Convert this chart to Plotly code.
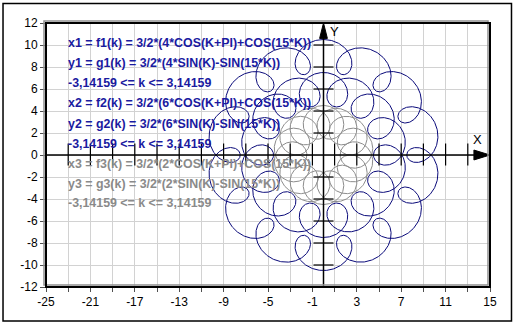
import numpy as np
import plotly.graph_objects as go

# ---- data ----
K_MIN, K_MAX = -3.14159, 3.14159
SCALE = 1.5                 # 3/2
BIG_RADII = [4, 6, 2]       # coefficient of COS(K+PI) / SIN(K)
SMALL_RADII = [1, 1, 1]     # coefficient of COS(15*K) / SIN(15*K)
FREQ = 15
N_POINTS = 3000

formula_lines = [
    "x1 = f1(k) = 3/2*(4*COS(K+PI)+COS(15*K))",
    "y1 = g1(k) = 3/2*(4*SIN(K)-SIN(15*K))",
    "-3,14159 <= k <= 3,14159",
    "x2 = f2(k) = 3/2*(6*COS(K+PI)+COS(15*K))",
    "y2 = g2(k) = 3/2*(6*SIN(K)-SIN(15*K))",
    "-3,14159 <= k <= 3,14159",
    "x3 = f3(k) = 3/2*(2*COS(K+PI)+COS(15*K))",
    "y3 = g3(k) = 3/2*(2*SIN(K)-SIN(15*K))",
    "-3,14159 <= k <= 3,14159",
]
line_y = [10.18, 8.36, 6.55, 4.73, 2.82, 1.0, -0.82, -2.64, -4.36]

x_tick_vals = list(range(-25, 16, 2))
x_tick_text = [str(v) if (v + 25) % 4 == 0 else "" for v in x_tick_vals]
y_tick_vals = list(range(-12, 13, 2))
y_tick_text = [str(v) for v in y_tick_vals]
axis_tick_x = list(range(-23, 14, 2))
axis_tick_y = [-10, -8, -6, -4, -2, 2, 4, 6, 8, 10]

# ---- styles ----
BLUE_LINE = "#0a0a7a"
GRAY_LINE = "#8c8c8c"
BLUE_TEXT = "#1a1aa0"
GRAY_TEXT = "#8a8a8a"
curve_colors = [BLUE_LINE, BLUE_LINE, GRAY_LINE]
text_colors = [BLUE_TEXT] * 6 + [GRAY_TEXT] * 3

k = np.linspace(K_MIN, K_MAX, N_POINTS)
fig = go.Figure()
for R, r, col in zip(BIG_RADII, SMALL_RADII, curve_colors):
    xs = SCALE * (R * np.cos(k + np.pi) + r * np.cos(FREQ * k))
    ys = SCALE * (R * np.sin(k) - r * np.sin(FREQ * k))
    fig.add_trace(go.Scatter(x=xs, y=ys, mode="lines",
                             line=dict(color=col, width=1), hoverinfo="skip"))

shapes = []
# main axes
shapes.append(dict(type="line", xref="x", yref="y", x0=-25, x1=14, y0=0, y1=0,
                   line=dict(color="black", width=1.5), layer="above"))
shapes.append(dict(type="line", xref="x", yref="y", x0=0, x1=0, y0=-12, y1=11,
                   line=dict(color="black", width=1.5), layer="above"))
for v in axis_tick_x:
    shapes.append(dict(type="line", xref="x", yref="y", x0=v, x1=v, y0=-0.95, y1=1.05,
                       line=dict(color="black", width=1.2), layer="above"))
for v in axis_tick_y:
    shapes.append(dict(type="line", xref="x", yref="y", x0=-0.9, x1=0.9, y0=v, y1=v,
                       line=dict(color="black", width=1.2), layer="above"))
# arrows
shapes.append(dict(type="path", xref="x", yref="y",
                   path="M 15 0 L 13.55 0.45 L 13.55 -0.45 Z",
                   fillcolor="black", line=dict(color="black", width=1), layer="above"))
shapes.append(dict(type="path", xref="x", yref="y",
                   path="M 0 12 L -0.35 10.6 L 0.35 10.6 Z",
                   fillcolor="black", line=dict(color="black", width=1), layer="above"))
# plot frame with gray shadow
shapes.append(dict(type="rect", xref="paper", yref="paper", x0=-0.0045, x1=0.9955,
                   y0=0.0076, y1=1.0076, line=dict(color="#909090", width=1.5), layer="above"))
shapes.append(dict(type="rect", xref="paper", yref="paper", x0=0, x1=1, y0=0, y1=1,
                   line=dict(color="black", width=2), layer="above"))
# outer border
shapes.append(dict(type="rect", xref="paper", yref="paper", x0=-0.0968, x1=1.0484,
                   y0=-0.1288, y1=1.0739, line=dict(color="black", width=1.5), layer="above"))

annotations = []
for txt, yy, col in zip(formula_lines, line_y, text_colors):
    annotations.append(dict(x=-23.2, y=yy, xref="x", yref="y", text="<b>" + txt + "</b>",
                            showarrow=False, xanchor="left", yanchor="middle",
                            font=dict(family="Liberation Sans, Arial", size=12.4, color=col)))
annotations.append(dict(x=13.9, y=1.4, xref="x", yref="y", text="X", showarrow=False,
                        font=dict(family="Liberation Sans, Arial", size=13, color="black")))
annotations.append(dict(x=1.0, y=11.2, xref="x", yref="y", text="Y", showarrow=False,
                        font=dict(family="Liberation Sans, Arial", size=13, color="black")))

fig.update_layout(
    width=515, height=324,
    margin=dict(l=46, r=25, t=23, b=37, pad=0),
    paper_bgcolor="white", plot_bgcolor="white",
    showlegend=False,
    shapes=shapes, annotations=annotations,
    font=dict(family="Liberation Sans, Arial", size=12, color="black"),
    xaxis=dict(range=[-25, 15], tickmode="array", tickvals=x_tick_vals, ticktext=x_tick_text,
               showgrid=True, gridcolor="#d2d2d2", gridwidth=1, zeroline=False,
               ticks="outside", ticklen=4, tickcolor="#505050", showline=False,
               tickfont=dict(size=12, color="black")),
    yaxis=dict(range=[-12, 12], tickmode="array", tickvals=y_tick_vals, ticktext=y_tick_text,
               showgrid=True, gridcolor="#d2d2d2", gridwidth=1, zeroline=False,
               ticks="outside", ticklen=5, tickcolor="#505050", showline=False,
               tickfont=dict(size=12, color="black")),
)

fig.write_html("out.html")
